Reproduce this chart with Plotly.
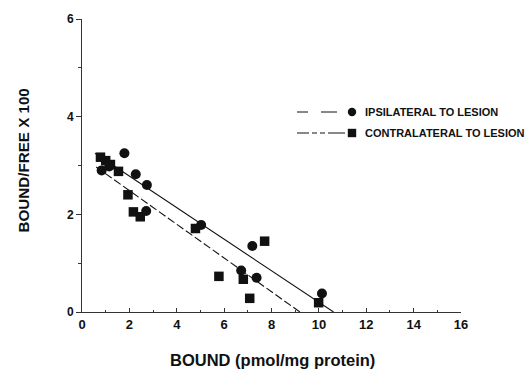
import plotly.graph_objects as go

# Data
ipsi_x = [0.83, 1.15, 1.79, 2.27, 2.74, 2.71, 5.03, 6.72, 7.19, 7.37, 10.13]
ipsi_y = [2.90, 2.98, 3.25, 2.82, 2.60, 2.07, 1.78, 0.85, 1.35, 0.70, 0.38]

contra_x = [0.78, 1.00, 1.20, 1.54, 1.94, 2.17, 2.46, 4.79, 5.78, 6.81, 7.71, 7.08, 9.99]
contra_y = [3.17, 3.10, 3.02, 2.88, 2.40, 2.05, 1.95, 1.71, 0.73, 0.67, 1.45, 0.28, 0.19]

# Regression line endpoints
ipsi_line_x = [0.55, 10.62]
ipsi_line_y = [3.25, 0.0]
contra_line_x = [0.60, 9.20]
contra_line_y = [2.97, 0.0]

x_ticks = [0, 2, 4, 6, 8, 10, 12, 14, 16]
y_ticks = [0, 2, 4, 6]
legend_labels = ["IPSILATERAL TO LESION", "CONTRALATERAL TO LESION"]

FONT = "Liberation Sans, Arial, sans-serif"
INK = "#111111"

fig = go.Figure()
fig.add_trace(go.Scatter(x=ipsi_line_x, y=ipsi_line_y, mode="lines",
                         line=dict(color=INK, width=1.1), showlegend=False, cliponaxis=False))
fig.add_trace(go.Scatter(x=contra_line_x, y=contra_line_y, mode="lines",
                         line=dict(color=INK, width=1.1, dash="8px,3px"), showlegend=False, cliponaxis=False))
fig.add_trace(go.Scatter(x=ipsi_x, y=ipsi_y, mode="markers",
                         marker=dict(symbol="circle", size=10, color=INK), showlegend=False, cliponaxis=False))
fig.add_trace(go.Scatter(x=contra_x, y=contra_y, mode="markers",
                         marker=dict(symbol="square", size=9.5, color=INK), showlegend=False, cliponaxis=False))

# Hand-drawn style legend (paper coordinates)
W, H = 379.0, 293.0
def px2paper(px, py):
    return (px - 82) / W, (312 - py) / H

leg_rows = [(112, "11px,13px,16px,40px", 337, "circle"), (133, "12px,3px,5px,3px,5px,3px,17px", 345, "square")]
for (py, dash, xend, sym), label in zip(leg_rows, legend_labels):
    x0, y0 = px2paper(297, py)
    x1, _ = px2paper(xend, py)
    fig.add_shape(type="line", xref="paper", yref="paper", x0=x0, x1=x1, y0=y0, y1=y0,
                  line=dict(color=INK, width=1, dash=dash))
    mx, my = px2paper(352, py)
    fig.add_shape(type="circle" if sym == "circle" else "rect", xref="paper", yref="paper",
                  xsizemode="pixel", ysizemode="pixel", xanchor=mx, yanchor=my,
                  x0=-4.2, x1=4.2, y0=-4.2, y1=4.2, fillcolor=INK, line=dict(color=INK, width=0))
    tx, ty = px2paper(363, py)
    fig.add_annotation(xref="paper", yref="paper", x=tx, y=ty, text=label, showarrow=False,
                       xanchor="left", yanchor="middle",
                       font=dict(family=FONT, size=11, color=INK, weight="bold"))

# Axis titles
tx, ty = px2paper(272, 360)
fig.add_annotation(xref="paper", yref="paper", x=tx, y=ty, text="BOUND (pmol/mg protein)",
                   showarrow=False, xanchor="center", yanchor="middle",
                   font=dict(family=FONT, size=16.5, color=INK, weight="bold"))
tx, ty = px2paper(22.5, 161)
fig.add_annotation(xref="paper", yref="paper", x=tx, y=ty, text="BOUND/FREE X 100",
                   showarrow=False, textangle=-90, xanchor="center", yanchor="middle",
                   font=dict(family=FONT, size=15.2, color=INK, weight="bold"))

fig.update_layout(
    width=528, height=369,
    margin=dict(l=82, r=67, t=19, b=57),
    paper_bgcolor="white", plot_bgcolor="white",
    font=dict(family=FONT, color=INK),
    showlegend=False,
)
fig.update_xaxes(range=[0, 16], tickvals=x_ticks, ticktext=[str(v) for v in x_ticks],
                 showgrid=False, zeroline=False, showline=True, linecolor="#333", linewidth=1,
                 ticks="inside", ticklen=4, tickcolor="#333",
                 minor=dict(ticks="inside", ticklen=2, tickcolor="#333", dtick=1, showgrid=False),
                 tickfont=dict(family=FONT, size=13, color=INK, weight="bold"))
fig.update_yaxes(range=[0, 6], tickvals=y_ticks, ticktext=[str(v) for v in y_ticks],
                 showgrid=False, zeroline=False, showline=True, linecolor="#333", linewidth=1,
                 ticks="outside", ticklen=5, tickcolor="#333",
                 minor=dict(ticks="outside", ticklen=3, tickcolor="#333", dtick=1, showgrid=False),
                 tickfont=dict(family=FONT, size=12, color=INK, weight="bold"))

fig.write_html("out.html")
